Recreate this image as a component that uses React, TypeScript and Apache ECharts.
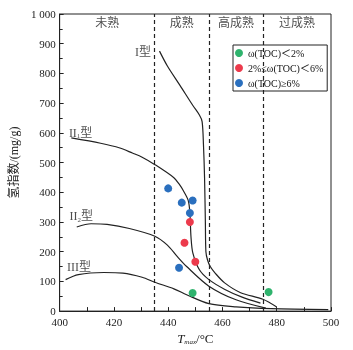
import React, { useEffect, useRef } from "react";
import * as echarts from "echarts";

// Curves [Tmax, HI]
const typeI: number[][] = [
  [436.8, 875], [439.7, 825], [444.4, 759], [449.1, 692], [451.5, 660], [452.5, 638],
  [453.0, 560], [453.4, 450], [453.7, 300], [453.9, 200], [454.5, 172], [455.5, 150],
  [457.3, 128], [460.8, 95], [466.7, 62], [474.9, 40], [480, 14],
];
const typeII1: number[][] = [
  [404.3, 583], [415.1, 565], [422.2, 549], [426.8, 532], [430.4, 518], [435.1, 493],
  [442.1, 449], [444.0, 428], [445.6, 405], [447.4, 372], [448.0, 330], [448.4, 250],
  [449.1, 195], [451.5, 139], [455, 106], [460.9, 73], [467, 48], [474, 27],
];
const typeII2: number[][] = [
  [406.3, 283], [411.6, 294], [417.5, 292], [425.7, 278], [435.1, 252], [439.7, 222],
  [443.3, 184], [446.8, 150], [455, 84], [465, 38], [476, 10],
];
const typeIII: number[][] = [
  [402.2, 106], [406.9, 123], [416.3, 130], [423.3, 128], [430.4, 114], [435.1, 97],
  [442.1, 75], [446.8, 55], [455, 25], [465, 14], [478, 8], [499, 5],
];

// Samples
const tocLow: number[][] = [[449, 61], [477, 64]];
const tocMid: number[][] = [[448, 300], [446, 230], [450, 166]];
const tocHigh: number[][] = [[440, 413], [445, 365], [449, 372], [448, 330], [444, 146]];

const stageBounds = [435, 455, 475];
const stageNames = ["未熟", "成熟", "高成熟", "过成熟"];
const stageCenters = [417.5, 445, 465, 487.5];
const stageY = 969;

const typeNames = ["I型", "II{s|1}型", "II{s|2}型", "III型"];
const typePos: number[][] = [[433.7, 873], [403.4, 601], [403.6, 319], [402.7, 150]];

const legendNames = ["ω(TOC)＜2%", "2%≤ω(TOC)＜6%", "ω(TOC)≥6%"];

const FONT = "'Times New Roman', 'Liberation Serif', 'Noto Sans CJK SC', serif";
const INK = "#222";

export default function App() {
  const ref = useRef<HTMLDivElement>(null);
  useEffect(() => {
    if (!ref.current) return;
    const chart = echarts.init(ref.current, undefined, { renderer: "svg" });
    const curve = (name: string, data: number[][]) => ({
      type: "line",
      name,
      data,
      smooth: 0.3,
      symbol: "none",
      lineStyle: { color: INK, width: 1.2 },
      silent: true,
      z: 2,
    });
    const scatter = (name: string, data: number[][], color: string) => ({
      type: "scatter",
      name,
      data,
      symbol: "circle",
      symbolSize: 8,
      itemStyle: { color, opacity: 1 },
      z: 5,
    });
    chart.setOption({
      animation: false,
      textStyle: { fontFamily: FONT },
      grid: { left: 47, right: 22, top: 14, bottom: 35, show: true, borderColor: INK, borderWidth: 1 },
      legend: {
        data: legendNames,
        orient: "vertical",
        left: 233,
        top: 45,
        padding: [3, 4, 3, 2],
        itemGap: 5,
        itemWidth: 8,
        itemHeight: 8,
        icon: "circle",
        backgroundColor: "#fff",
        borderColor: INK,
        borderWidth: 1,
        borderRadius: 0,
        textStyle: { fontFamily: FONT, fontSize: 10, color: "#111" },
      },
      xAxis: {
        type: "value",
        min: 400,
        max: 500,
        interval: 20,
        name: "{i|T}{s|max}/°C",
        nameLocation: "middle",
        nameGap: 14,
        nameTextStyle: {
          fontFamily: FONT,
          fontSize: 13,
          color: INK,
          rich: {
            i: { fontStyle: "italic", fontFamily: FONT, fontSize: 13, color: INK },
            s: { fontStyle: "italic", fontFamily: FONT, fontSize: 7, color: INK, verticalAlign: "bottom", padding: [6, 0, 0, 0] },
          },
        },
        axisLine: { lineStyle: { color: INK, width: 1 } },
        axisTick: { inside: true, length: 4, lineStyle: { color: INK } },
        minorTick: { show: true, splitNumber: 2, length: 4, lineStyle: { color: INK } },
        axisLabel: { fontFamily: FONT, fontSize: 11, color: INK, margin: 5 },
        splitLine: { show: false },
      },
      yAxis: {
        type: "value",
        min: 0,
        max: 1000,
        interval: 100,
        name: "氢指数/(mg/g)",
        nameLocation: "middle",
        nameGap: 28,
        nameTextStyle: { fontFamily: FONT, fontSize: 12, color: INK },
        axisLine: { show: true, lineStyle: { color: INK, width: 1 } },
        axisTick: { show: true, inside: true, length: 4, lineStyle: { color: INK } },
        minorTick: { show: true, splitNumber: 2, length: 3, lineStyle: { color: INK } },
        axisLabel: {
          fontFamily: FONT,
          fontSize: 11,
          color: INK,
          margin: 4,
          formatter: (v: number) => (v === 1000 ? "1 000" : String(v)),
        },
        splitLine: { show: false },
      },
      series: [
        {
          ...curve("I", typeI),
          markLine: {
            silent: true,
            symbol: "none",
            label: { show: false },
            lineStyle: { color: INK, type: [4, 3], width: 1.2 },
            data: stageBounds.map((x) => ({ xAxis: x })),
          },
        },
        curve("II1", typeII1),
        curve("II2", typeII2),
        curve("III", typeIII),
        scatter(legendNames[0], tocLow, "#2fb36d"),
        scatter(legendNames[1], tocMid, "#ec3a4c"),
        scatter(legendNames[2], tocHigh, "#2a6fbe"),
        {
          type: "scatter",
          name: "stages",
          symbolSize: 0,
          silent: true,
          data: stageNames.map((n, i) => ({ name: n, value: [stageCenters[i], stageY] })),
          label: {
            show: true,
            position: "inside",
            formatter: (p: any) => p.name,
            fontFamily: FONT,
            fontSize: 12,
            color: INK,
          },
        },
        {
          type: "scatter",
          name: "types",
          symbolSize: 0,
          silent: true,
          data: typeNames.map((n, i) => ({
            name: n,
            value: typePos[i],
            label: i === 0 ? { position: "left", align: "right" } : { position: "right", align: "left" },
          })),
          label: {
            show: true,
            distance: 0,
            formatter: (p: any) => p.name,
            fontFamily: FONT,
            fontSize: 12,
            color: INK,
            rich: { s: { fontFamily: FONT, fontSize: 7, color: INK, verticalAlign: "bottom", padding: [7, 0, 0, 0] } },
          },
        },
      ],
    });
    return () => chart.dispose();
  }, []);
  return <div ref={ref} style={{ position: "fixed", left: 0, top: 0, width: 353, height: 350 }} />;
}
